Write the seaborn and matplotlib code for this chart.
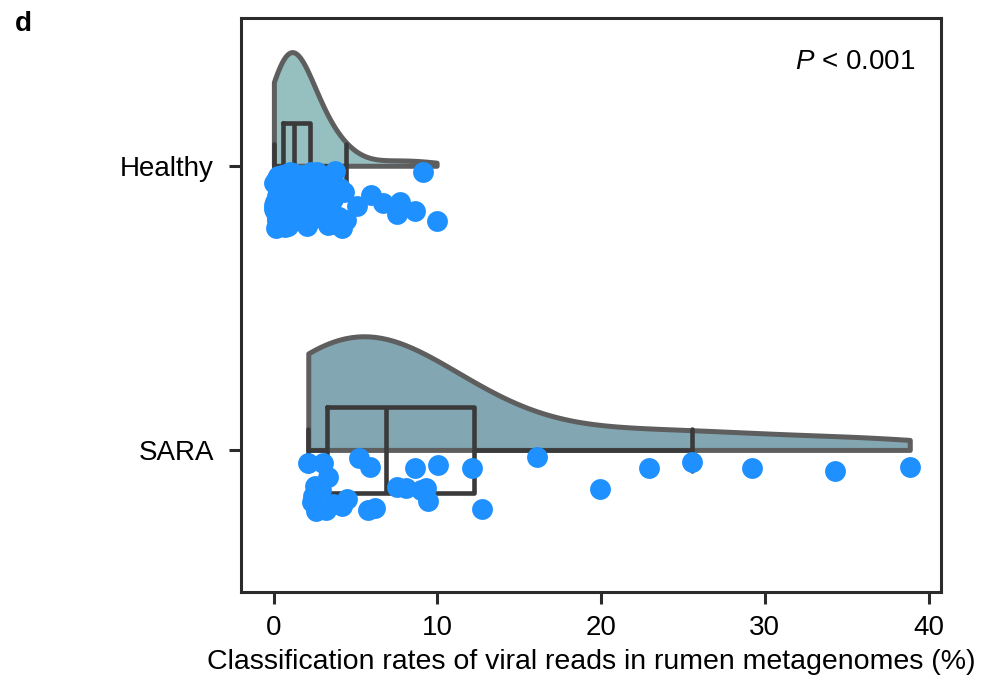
import numpy as np
import pandas as pd
import matplotlib
matplotlib.use("Agg")
import matplotlib.pyplot as plt
import matplotlib.transforms as mtransforms
import seaborn as sns

# ---- data ----
groups = ["Healthy", "SARA"]

healthy_values = [
    0.01, 0.03, 0.04, 0.06, 0.09, 0.11, 0.12, 0.14, 0.16, 0.18,
    0.20, 0.21, 0.24, 0.26, 0.29, 0.31, 0.33, 0.35, 0.37, 0.38,
    0.41, 0.42, 0.44, 0.45, 0.47, 0.49, 0.50, 0.51, 0.53, 0.54,
    0.55, 0.56, 0.57, 0.58,
    0.60, 0.62, 0.64, 0.66, 0.69, 0.70, 0.72, 0.74, 0.76, 0.79,
    0.80, 0.83, 0.85, 0.86, 0.89, 0.90, 0.92, 0.94, 0.95, 0.98,
    1.00, 1.01, 1.04, 1.05, 1.07, 1.10, 1.12, 1.13, 1.16, 1.17,
    1.19, 1.20, 1.22, 1.23,
    1.26, 1.28, 1.30, 1.33, 1.35, 1.39, 1.41, 1.44, 1.46, 1.48,
    1.53, 1.55, 1.58, 1.60, 1.63, 1.68, 1.70, 1.73, 1.76, 1.79,
    1.84, 1.87, 1.90, 1.93, 1.95, 2.00, 2.02, 2.05, 2.08, 2.10,
    2.13, 2.15, 2.18, 2.19,
    2.26, 2.30, 2.35, 2.44, 2.50, 2.55, 2.66, 2.70, 2.78, 2.85,
    2.90, 3.05, 3.10, 3.20, 3.30, 3.38, 3.50, 3.55, 3.65, 3.75,
    3.85, 3.98, 4.05, 4.20, 4.30, 4.40, 5.10, 5.97, 6.67, 7.50,
    7.70, 8.62, 9.13, 9.95,
]

sara_values = [
    2.11, 2.32, 2.40, 2.55, 2.60, 2.90, 3.00, 3.20, 3.30, 3.60,
    4.14, 4.45, 5.20, 5.75, 5.90, 6.17, 7.50, 8.10, 8.60, 9.00,
    9.30, 9.40, 10.05, 12.10, 12.70, 16.10, 19.90, 22.90, 25.56,
    29.20, 34.30, 38.85,
]

violin_colors = {"Healthy": "#96bfc0", "SARA": "#82a7b2"}
bw_adjusts = {"Healthy": 1.7, "SARA": 1.0}
point_color = "#1e90ff"
xticks = [0, 10, 20, 30, 40]
xlabel = "Classification rates of viral reads in rumen metagenomes (%)"
p_text = r"$P$ < 0.001"
panel_label = "d"

df = pd.DataFrame({
    "group": ["Healthy"] * len(healthy_values) + ["SARA"] * len(sara_values),
    "value": healthy_values + sara_values,
})

# ---- style ----
sns.set_style("ticks")
plt.rcParams["font.family"] = ["Liberation Sans", "DejaVu Sans"]
plt.rcParams["mathtext.fontset"] = "custom"
plt.rcParams["mathtext.it"] = "Liberation Sans:italic"
plt.rcParams["mathtext.rm"] = "Liberation Sans"
plt.rcParams["text.color"] = "black"
plt.rcParams["axes.labelcolor"] = "black"

fig = plt.figure(figsize=(10.02, 6.87), dpi=100)
ax = fig.add_axes([0.2405, 0.1383, 0.6985, 0.8355])

# half violins: seaborn's single-sided violin sits between (pos + w/2) and
# the density curve; shift it up by w/2 so its flat side is on the centre line
vw = 0.4
up = mtransforms.Affine2D().translate(0, -vw / 2) + ax.transData
for g in groups:
    sub = df[df["group"] == g]
    n0 = len(ax.collections)
    sns.violinplot(data=sub, x="value", y="group", order=groups,
                   color=violin_colors[g], split=True, inner=None, cut=0,
                   bw_adjust=bw_adjusts[g], density_norm="width", width=vw,
                   linewidth=3.6, linecolor="#5e5e5e", saturation=1, ax=ax)
    for coll in ax.collections[n0:]:
        coll.set_transform(up)

# boxes
sns.boxplot(data=df, x="value", y="group", order=groups, width=0.3,
            fill=False, showfliers=False, color="#3a3a3a", linewidth=3.3,
            ax=ax)

# rain (points) below the centre line
n_before = len(ax.collections)
sns.stripplot(data=df, x="value", y="group", order=groups, color=point_color,
              size=15, jitter=0.1, linewidth=0, ax=ax, zorder=4)
shift = mtransforms.Affine2D().translate(0, 0.12) + ax.transData
for coll in ax.collections[n_before:]:
    coll.set_offset_transform(shift)

ax.set_xlim(-2.0, 40.75)
ax.set_ylim(1.5, -0.52)
ax.set_xticks(xticks)
ax.set_xlabel(xlabel, fontsize=20.5, labelpad=6)
ax.set_ylabel("")

for side in ["left", "right", "top", "bottom"]:
    ax.spines[side].set_visible(True)
    ax.spines[side].set_linewidth(2.2)
    ax.spines[side].set_color("#2b2b2b")
ax.tick_params(axis="both", length=8.5, width=2.2, color="#2b2b2b",
               labelsize=20, labelcolor="black")
ax.tick_params(axis="x", pad=8)
ax.tick_params(axis="y", pad=11)

ax.text(0.963, 0.923, p_text, transform=ax.transAxes, ha="right",
        va="center", fontsize=20)
fig.text(0.015, 0.965, panel_label, fontsize=20, fontweight="bold",
         ha="left", va="center")

fig.savefig("out.png", dpi=100)
